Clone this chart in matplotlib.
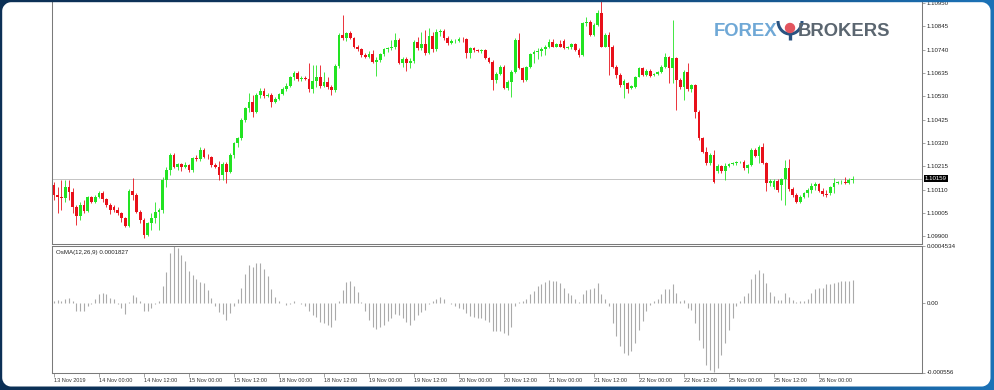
import numpy as np
import matplotlib.pyplot as plt
from matplotlib.patches import Arc, Circle

plt.rcParams['font.family'] = ['Liberation Sans', 'DejaVu Sans']

# EURUSD H1 candles, 13 Nov 2019 12:00 -> 26 Nov 2019 09:00
opens = [
    1.10131, 1.10086, 1.10075, 1.10071, 1.10123, 1.10101, 1.10033, 1.09991, 1.10041, 1.10015,
    1.10075, 1.10056, 1.10078, 1.10096, 1.10066, 1.10041, 1.10030, 1.10018, 1.10003, 1.09980,
    1.09946, 1.10105, 1.10086, 1.10011, 1.09973, 1.09905, 1.09958, 1.09980, 1.10011, 1.10018,
    1.10153, 1.10198, 1.10266, 1.10213, 1.10224, 1.10213, 1.10221, 1.10198, 1.10251, 1.10246,
    1.10288, 1.10258, 1.10255, 1.10221, 1.10213, 1.10176, 1.10225, 1.10191, 1.10266, 1.10318,
    1.10341, 1.10423, 1.10476, 1.10506, 1.10461, 1.10536, 1.10555, 1.10531, 1.10536, 1.10506,
    1.10519, 1.10540, 1.10564, 1.10576, 1.10615, 1.10636, 1.10606, 1.10612, 1.10609, 1.10561,
    1.10600, 1.10615, 1.10576, 1.10594, 1.10573, 1.10558, 1.10666, 1.10806, 1.10791, 1.10813,
    1.10791, 1.10753, 1.10741, 1.10716, 1.10708, 1.10720, 1.10686, 1.10693, 1.10719, 1.10741,
    1.10746, 1.10753, 1.10783, 1.10681, 1.10699, 1.10681, 1.10690, 1.10773, 1.10746, 1.10765,
    1.10726, 1.10801, 1.10741, 1.10821, 1.10824, 1.10791, 1.10768, 1.10777, 1.10780, 1.10788,
    1.10786, 1.10723, 1.10746, 1.10738, 1.10735, 1.10738, 1.10701, 1.10686, 1.10603, 1.10630,
    1.10663, 1.10566, 1.10596, 1.10641, 1.10783, 1.10656, 1.10603, 1.10660, 1.10720, 1.10728,
    1.10735, 1.10741, 1.10753, 1.10776, 1.10753, 1.10765, 1.10780, 1.10746, 1.10750, 1.10765,
    1.10738, 1.10716, 1.10858, 1.10866, 1.10806, 1.10851, 1.10906, 1.10753, 1.10806, 1.10753,
    1.10663, 1.10626, 1.10581, 1.10588, 1.10566, 1.10570, 1.10618, 1.10656, 1.10626, 1.10645,
    1.10626, 1.10630, 1.10641, 1.10663, 1.10705, 1.10656, 1.10701, 1.10603, 1.10570, 1.10641,
    1.10561, 1.10579, 1.10461, 1.10341, 1.10281, 1.10228, 1.10266, 1.10195, 1.10216, 1.10195,
    1.10216, 1.10225, 1.10228, 1.10233, 1.10234, 1.10206, 1.10221, 1.10288, 1.10261, 1.10300,
    1.10231, 1.10138, 1.10123, 1.10150, 1.10131, 1.10156, 1.10206, 1.10111, 1.10086, 1.10056,
    1.10078, 1.10093, 1.10108, 1.10126, 1.10135, 1.10105, 1.10090, 1.10093, 1.10120, 1.10141,
    1.10144, 1.10146, 1.10140, 1.10153]
highs = [
    1.10146, 1.10123, 1.10153, 1.10153, 1.10153, 1.10116, 1.10041, 1.10056, 1.10063, 1.10081,
    1.10081, 1.10086, 1.10105, 1.10105, 1.10071, 1.10048, 1.10041, 1.10033, 1.10011, 1.09988,
    1.10111, 1.10161, 1.10093, 1.10018, 1.09980, 1.09965, 1.10003, 1.10056, 1.10026, 1.10168,
    1.10213, 1.10273, 1.10273, 1.10231, 1.10231, 1.10233, 1.10225, 1.10258, 1.10266, 1.10303,
    1.10296, 1.10269, 1.10261, 1.10231, 1.10240, 1.10236, 1.10236, 1.10273, 1.10326, 1.10348,
    1.10431, 1.10483, 1.10543, 1.10536, 1.10543, 1.10566, 1.10566, 1.10543, 1.10543, 1.10528,
    1.10546, 1.10570, 1.10588, 1.10621, 1.10645, 1.10645, 1.10621, 1.10621, 1.10678, 1.10671,
    1.10671, 1.10671, 1.10641, 1.10615, 1.10581, 1.10675, 1.10813, 1.10896, 1.10821, 1.10825,
    1.10795, 1.10761, 1.10746, 1.10723, 1.10735, 1.10738, 1.10708, 1.10726, 1.10749, 1.10753,
    1.10783, 1.10813, 1.10791, 1.10708, 1.10708, 1.10701, 1.10783, 1.10795, 1.10821, 1.10828,
    1.10836, 1.10821, 1.10831, 1.10831, 1.10831, 1.10801, 1.10786, 1.10786, 1.10795, 1.10795,
    1.10791, 1.10753, 1.10753, 1.10744, 1.10744, 1.10744, 1.10708, 1.10693, 1.10641, 1.10671,
    1.10671, 1.10603, 1.10648, 1.10791, 1.10813, 1.10663, 1.10666, 1.10726, 1.10738, 1.10746,
    1.10750, 1.10761, 1.10786, 1.10786, 1.10771, 1.10783, 1.10786, 1.10756, 1.10771, 1.10771,
    1.10746, 1.10866, 1.10888, 1.10873, 1.10858, 1.10918, 1.10960, 1.10813, 1.10821, 1.10761,
    1.10671, 1.10633, 1.10606, 1.10596, 1.10581, 1.10621, 1.10663, 1.10660, 1.10651, 1.10651,
    1.10636, 1.10645, 1.10669, 1.10723, 1.10711, 1.10873, 1.10705, 1.10611, 1.10648, 1.10678,
    1.10585, 1.10585, 1.10468, 1.10348, 1.10303, 1.10276, 1.10288, 1.10225, 1.10221, 1.10228,
    1.10231, 1.10236, 1.10240, 1.10240, 1.10243, 1.10225, 1.10296, 1.10296, 1.10311, 1.10318,
    1.10236, 1.10156, 1.10156, 1.10156, 1.10164, 1.10243, 1.10246, 1.10120, 1.10093, 1.10086,
    1.10101, 1.10116, 1.10138, 1.10146, 1.10141, 1.10116, 1.10108, 1.10126, 1.10161, 1.10150,
    1.10153, 1.10168, 1.10164, 1.10171]
lows = [
    1.10063, 1.10003, 1.10018, 1.10056, 1.10063, 1.10003, 1.09950, 1.09973, 1.10003, 1.10011,
    1.10048, 1.10048, 1.10071, 1.10056, 1.10033, 1.10000, 1.10011, 1.09995, 1.09965, 1.09940,
    1.09940, 1.10063, 1.10003, 1.09961, 1.09890, 1.09901, 1.09928, 1.09958, 1.09928, 1.10003,
    1.10123, 1.10176, 1.10206, 1.10198, 1.10195, 1.10206, 1.10191, 1.10191, 1.10240, 1.10240,
    1.10251, 1.10249, 1.10213, 1.10206, 1.10153, 1.10153, 1.10138, 1.10183, 1.10251, 1.10303,
    1.10333, 1.10416, 1.10461, 1.10438, 1.10453, 1.10521, 1.10521, 1.10525, 1.10483, 1.10498,
    1.10513, 1.10536, 1.10555, 1.10570, 1.10603, 1.10600, 1.10600, 1.10603, 1.10551, 1.10546,
    1.10573, 1.10566, 1.10570, 1.10561, 1.10536, 1.10551, 1.10656, 1.10783, 1.10780, 1.10786,
    1.10746, 1.10735, 1.10708, 1.10701, 1.10702, 1.10681, 1.10621, 1.10686, 1.10711, 1.10731,
    1.10738, 1.10741, 1.10675, 1.10663, 1.10645, 1.10656, 1.10681, 1.10738, 1.10738, 1.10716,
    1.10720, 1.10731, 1.10735, 1.10801, 1.10783, 1.10761, 1.10765, 1.10771, 1.10774, 1.10776,
    1.10701, 1.10701, 1.10731, 1.10729, 1.10726, 1.10696, 1.10678, 1.10558, 1.10591, 1.10626,
    1.10561, 1.10558, 1.10528, 1.10636, 1.10651, 1.10596, 1.10600, 1.10656, 1.10681, 1.10696,
    1.10711, 1.10716, 1.10746, 1.10750, 1.10750, 1.10750, 1.10741, 1.10743, 1.10744, 1.10735,
    1.10708, 1.10711, 1.10846, 1.10801, 1.10801, 1.10846, 1.10750, 1.10750, 1.10626, 1.10656,
    1.10611, 1.10573, 1.10521, 1.10543, 1.10561, 1.10566, 1.10615, 1.10621, 1.10621, 1.10618,
    1.10621, 1.10626, 1.10636, 1.10656, 1.10588, 1.10588, 1.10468, 1.10561, 1.10513, 1.10555,
    1.10551, 1.10431, 1.10333, 1.10273, 1.10221, 1.10221, 1.10141, 1.10186, 1.10186, 1.10153,
    1.10210, 1.10219, 1.10222, 1.10228, 1.10198, 1.10186, 1.10216, 1.10255, 1.10228, 1.10225,
    1.10105, 1.10126, 1.10111, 1.10101, 1.10063, 1.10041, 1.10105, 1.10078, 1.10048, 1.10051,
    1.10071, 1.10075, 1.10096, 1.10108, 1.10099, 1.10081, 1.10078, 1.10087, 1.10093, 1.10135,
    1.10135, 1.10134, 1.10134, 1.10138]
closes = [
    1.10086, 1.10075, 1.10071, 1.10123, 1.10101, 1.10033, 1.09991, 1.10041, 1.10015, 1.10075,
    1.10056, 1.10078, 1.10096, 1.10066, 1.10041, 1.10018, 1.10018, 1.10003, 1.09980, 1.09946,
    1.10105, 1.10086, 1.10011, 1.09973, 1.09905, 1.09958, 1.09980, 1.10011, 1.10018, 1.10153,
    1.10198, 1.10266, 1.10213, 1.10224, 1.10213, 1.10221, 1.10198, 1.10251, 1.10246, 1.10288,
    1.10258, 1.10255, 1.10221, 1.10213, 1.10176, 1.10225, 1.10191, 1.10266, 1.10318, 1.10341,
    1.10423, 1.10476, 1.10506, 1.10461, 1.10536, 1.10555, 1.10531, 1.10536, 1.10506, 1.10519,
    1.10540, 1.10564, 1.10576, 1.10615, 1.10636, 1.10606, 1.10612, 1.10609, 1.10561, 1.10600,
    1.10615, 1.10576, 1.10594, 1.10573, 1.10558, 1.10666, 1.10806, 1.10791, 1.10813, 1.10791,
    1.10753, 1.10741, 1.10716, 1.10708, 1.10720, 1.10686, 1.10693, 1.10719, 1.10741, 1.10746,
    1.10753, 1.10783, 1.10681, 1.10699, 1.10681, 1.10690, 1.10773, 1.10746, 1.10765, 1.10726,
    1.10801, 1.10741, 1.10821, 1.10824, 1.10791, 1.10768, 1.10777, 1.10780, 1.10788, 1.10786,
    1.10723, 1.10746, 1.10738, 1.10735, 1.10738, 1.10701, 1.10686, 1.10603, 1.10630, 1.10663,
    1.10566, 1.10596, 1.10641, 1.10783, 1.10656, 1.10603, 1.10660, 1.10720, 1.10728, 1.10735,
    1.10741, 1.10753, 1.10776, 1.10753, 1.10765, 1.10753, 1.10746, 1.10750, 1.10765, 1.10738,
    1.10716, 1.10858, 1.10866, 1.10806, 1.10851, 1.10903, 1.10753, 1.10806, 1.10753, 1.10663,
    1.10626, 1.10581, 1.10600, 1.10561, 1.10576, 1.10618, 1.10656, 1.10626, 1.10645, 1.10621,
    1.10630, 1.10641, 1.10663, 1.10705, 1.10656, 1.10701, 1.10603, 1.10570, 1.10641, 1.10561,
    1.10579, 1.10461, 1.10341, 1.10281, 1.10228, 1.10266, 1.10146, 1.10216, 1.10195, 1.10216,
    1.10225, 1.10228, 1.10233, 1.10234, 1.10206, 1.10221, 1.10288, 1.10261, 1.10300, 1.10231,
    1.10138, 1.10150, 1.10150, 1.10108, 1.10156, 1.10206, 1.10111, 1.10086, 1.10056, 1.10078,
    1.10093, 1.10108, 1.10126, 1.10135, 1.10105, 1.10090, 1.10086, 1.10120, 1.10141, 1.10144,
    1.10146, 1.10140, 1.10153, 1.10159]

# OsMA(12,26,9) histogram, in millionths
osma_e6 = [
    13, 19, 13, 27, 35, 11, -67, -67, -67, -27,
    -8, 32, 67, 80, 67, 40, 27, -13, -40, -93,
    5, 59, 48, 13, -67, -67, -40, -13, 13, 134,
    246, 400, 453, 440, 382, 334, 254, 219, 187, 166,
    160, 101, 40, -27, -75, -93, -134, -85, -27, 27,
    120, 227, 299, 288, 315, 315, 267, 214, 112, 48,
    13, -5, -16, -8, 13, -3, -8, -27, -67, -101,
    -115, -155, -160, -174, -192, -134, 13, 101, 166, 174,
    134, 85, 3, -67, -134, -192, -208, -192, -174, -147,
    -120, -93, -101, -120, -155, -174, -134, -101, -75, -59,
    -13, 13, 27, 48, 27, -3, -13, -27, -40, -53,
    -85, -107, -112, -120, -120, -134, -155, -227, -227, -227,
    -240, -254, -192, -27, 3, 13, 32, 67, 93, 134,
    147, 166, 182, 174, 174, 160, 120, 80, 59, 27,
    3, 67, 101, 107, 120, 155, 67, 27, -27, -160,
    -267, -347, -400, -414, -387, -320, -214, -147, -67, -21,
    13, 32, 67, 112, 107, 147, 80, 13, 19, -40,
    -59, -160, -294, -360, -494, -540, -556, -520, -414, -320,
    -214, -120, -27, 13, 53, 80, 187, 227, 262, 240,
    160, 85, 53, 21, 21, 75, 48, 21, 3, 11,
    13, 32, 75, 107, 120, 120, 147, 147, 160, 166,
    174, 174, 176, 183]

time_labels = ['13 Nov 2019', '14 Nov 00:00', '14 Nov 12:00', '15 Nov 00:00', '15 Nov 12:00',
               '18 Nov 00:00', '18 Nov 12:00', '19 Nov 00:00', '19 Nov 12:00', '20 Nov 00:00',
               '20 Nov 12:00', '21 Nov 00:00', '21 Nov 12:00', '22 Nov 00:00', '22 Nov 12:00',
               '25 Nov 00:00', '25 Nov 12:00', '26 Nov 00:00']
label_bars = list(range(0, 12 * len(time_labels), 12))  # one label every 12 H1 bars

price_ticks = [1.09900, 1.10005, 1.10110, 1.10215, 1.10320, 1.10425,
               1.10530, 1.10635, 1.10740, 1.10845, 1.10950]
last_price = 1.10159
osma_top, osma_bottom = 0.0004534, -0.0005563

W, H = 995, 390
fig = plt.figure(figsize=(W / 100, H / 100), dpi=100, facecolor='white')


def box(x0, y0, x1, y1):
    # pixel box measured from the top-left corner of the image
    return [x0 / W, 1 - y1 / H, (x1 - x0) / W, (y1 - y0) / H]


ax = fig.add_axes(box(52.5, 1, 922, 243.5))
ax2 = fig.add_axes(box(52.5, 246, 922, 372.5))

idx = np.arange(len(closes))
o, hi, lo, c = map(np.array, (opens, highs, lows, closes))
cols = np.where(c >= o, '#22e322', '#e8101a')

ax.axhline(last_price, color='#c4c4c4', lw=0.7, zorder=0)
ax.vlines(idx, lo, hi, colors=cols, lw=0.6)
ax.bar(idx, np.maximum(np.abs(c - o), 0.00002), bottom=np.minimum(o, c),
       width=0.74, color=cols, linewidth=0)

ax.set_xlim(-0.4, 231.5)
ax.set_ylim(1.09867, 1.10959)
ax.set_xticks([])
ax.yaxis.tick_right()
ax.set_yticks(price_ticks)
ax.set_yticklabels([f'{p:.5f}' for p in price_ticks])
ax.tick_params(axis='y', direction='out', length=2, width=0.5, color='#808080',
               labelcolor='#222222', labelsize=4.4, pad=1.2)
ax.text(1.0035, last_price, '1.10159', transform=ax.get_yaxis_transform(),
        color='white', fontsize=4.4, va='center', ha='left',
        bbox=dict(facecolor='black', edgecolor='none', pad=0.8))

# OsMA window
osma = np.array(osma_e6) * 1e-6
ax2.vlines(idx, 0, osma, colors='#aaaaaa', lw=0.8)
ax2.set_xlim(-0.4, 231.5)
ax2.set_ylim(osma_bottom, osma_top)
ax2.yaxis.tick_right()
ax2.set_yticks([osma_top, 0.0, osma_bottom])
ax2.set_yticklabels(['0.0004534', '0.00', '-0.000556'])
ax2.tick_params(axis='y', direction='out', length=2, width=0.5, color='#808080',
                labelcolor='#222222', labelsize=4.4, pad=1.2)
ax2.set_xticks(label_bars)
ax2.set_xticklabels(time_labels, ha='left')
ax2.tick_params(axis='x', direction='out', length=3, width=0.5, color='#808080',
                labelcolor='#333333', labelsize=4.0, pad=1.2)
ax2.text(0.004, 0.965, 'OsMA(12,26,9) 0.0001827', transform=ax2.transAxes,
         fontsize=4.4, va='top', ha='left', color='#222222')

for a in (ax, ax2):
    for s in a.spines.values():
        s.set_color('#7a7a7a')
        s.set_linewidth(0.75)
ax.spines['top'].set_visible(False)

# watermark logo
fig.text(714 / W, 1 - 31 / H, 'FOREX', color='#6fa8d6', fontsize=13.3,
         fontweight='bold', va='center', ha='left')
fig.text(798 / W, 1 - 31 / H, 'BROKERS', color='#5b6670', fontsize=13.3,
         fontweight='bold', va='center', ha='left')
axl = fig.add_axes(box(776, 19, 804, 43))
axl.set_xlim(0, 28)
axl.set_ylim(0, 24)
axl.axis('off')
axl.add_patch(Arc((14, 22), 24, 26, theta1=180, theta2=360, color='#2a5381', lw=2.2))
axl.add_patch(Circle((14, 15), 4.5, color='#e2555f'))
axl.plot([14, 14], [3.5, 9], color='#2a5381', lw=2.4, solid_capstyle='butt')

# rounded navy frame around the picture
yy, xx = np.mgrid[0:H, 0:W] + 0.5
x0, x1, y0, y1, r = 2.2, 990.5, 2.2, 386.5, 9.0
qx = np.abs(xx - (x0 + x1) / 2) - ((x1 - x0) / 2 - r)
qy = np.abs(yy - (y0 + y1) / 2) - ((y1 - y0) / 2 - r)
d = np.hypot(np.maximum(qx, 0), np.maximum(qy, 0)) + np.minimum(np.maximum(qx, qy), 0) - r
alpha = np.clip(d + 0.5, 0, 1)
t = (xx / W) ** 2
navy = np.array([0.05, 0.19, 0.34])
blue = np.array([0.11, 0.45, 0.72])
rgb = navy + t[..., None] * (blue - navy)
fig.figimage(np.dstack([rgb, alpha]), xo=0, yo=0, origin='upper', zorder=10)

fig.savefig('out.png', dpi=100)
